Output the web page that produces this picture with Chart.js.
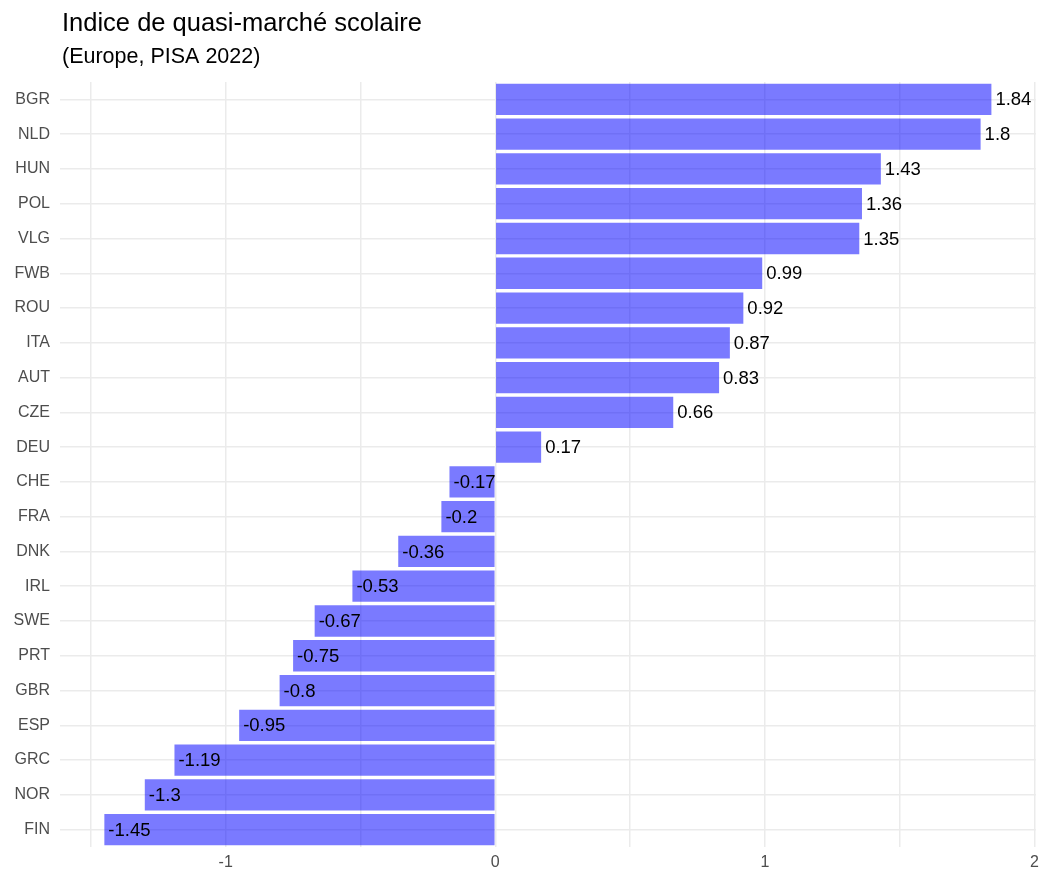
<!DOCTYPE html>
<html>
<head>
<meta charset="utf-8">
<script src="https://cdn.jsdelivr.net/npm/chart.js@4"></script>
<style>
  html, body { margin: 0; padding: 0; background: #fff; }
  #wrap { width: 1045px; height: 877px; }
</style>
</head>
<body>
<div id="wrap"><canvas id="chart"></canvas></div>
<script>
const countries = ['BGR', 'NLD', 'HUN', 'POL', 'VLG', 'FWB', 'ROU', 'ITA', 'AUT', 'CZE', 'DEU',
  'CHE', 'FRA', 'DNK', 'IRL', 'SWE', 'PRT', 'GBR', 'ESP', 'GRC', 'NOR', 'FIN']
const values = [1.84, 1.8, 1.43, 1.36, 1.35, 0.99, 0.92, 0.87, 0.83, 0.66, 0.17,
  -0.17, -0.2, -0.36, -0.53, -0.67, -0.75, -0.8, -0.95, -1.19, -1.3, -1.45]
const xTicks = [-1.5, -1, -0.5, 0, 0.5, 1, 1.5, 2]
const title = 'Indice de quasi-marché scolaire'
const subtitle = '(Europe, PISA 2022)'

const font = '"Liberation Sans", Arial, Helvetica, sans-serif'

// titles drawn at the left edge of the panel, like ggplot
const titles = {
  id: 'titles',
  afterDraw(chart) {
    const c = chart.ctx
    const left = chart.chartArea.left + 2
    c.save()
    c.fillStyle = '#000'
    c.textAlign = 'left'
    c.textBaseline = 'alphabetic'
    c.font = '25.5px ' + font
    c.fillText(title, left, 31)
    c.font = '21.5px ' + font
    c.fillText(subtitle, left, 63)
    c.restore()
  }
}

// value labels, starting at the bar end
const labels = {
  id: 'labels',
  afterDatasetsDraw(chart) {
    const c = chart.ctx
    const x = chart.scales.x
    const meta = chart.getDatasetMeta(0)
    c.save()
    c.fillStyle = '#000'
    c.font = '18.5px ' + font
    c.textAlign = 'left'
    c.textBaseline = 'middle'
    meta.data.forEach((bar, i) => {
      c.fillText(String(values[i]), x.getPixelForValue(values[i]) + 4, bar.y + 1)
    })
    c.restore()
  }
}

const ctx = document.getElementById('chart')
const chart = new Chart(ctx, {
  type: 'bar',
  data: {
    labels: countries,
    datasets: [{
      data: values,
      backgroundColor: 'rgba(0, 0, 255, 0.52)',
      borderWidth: 0,
      barPercentage: 0.9,
      categoryPercentage: 1
    }]
  },
  options: {
    indexAxis: 'y',
    responsive: true,
    maintainAspectRatio: false,
    animation: false,
    layout: { padding: { top: 82, right: 8, bottom: 0, left: 0 } },
    plugins: {
      legend: { display: false },
      tooltip: { enabled: false }
    },
    scales: {
      x: {
        type: 'linear',
        min: -1.6145,
        max: 2.0045,
        afterBuildTicks: (scale) => {
          scale.ticks = xTicks.map(v => ({ value: v }))
        },
        afterFit: (scale) => { scale.height = 30 },
        grid: { color: '#ebebeb', lineWidth: 1.5, drawTicks: false },
        border: { display: false },
        ticks: {
          padding: 6,
          color: '#4d4d4d',
          font: { size: 16, family: font },
          autoSkip: false,
          maxRotation: 0,
          callback: (v) => Number.isInteger(v) ? String(v) : ''
        }
      },
      y: {
        afterFit: (scale) => { scale.width = 60 },
        grid: { color: '#ebebeb', lineWidth: 1.5, offset: false, drawTicks: false },
        border: { display: false },
        ticks: {
          padding: 10,
          color: '#4d4d4d',
          font: { size: 16, family: font },
          autoSkip: false
        }
      }
    }
  },
  plugins: [titles, labels]
})
</script>
</body>
</html>
